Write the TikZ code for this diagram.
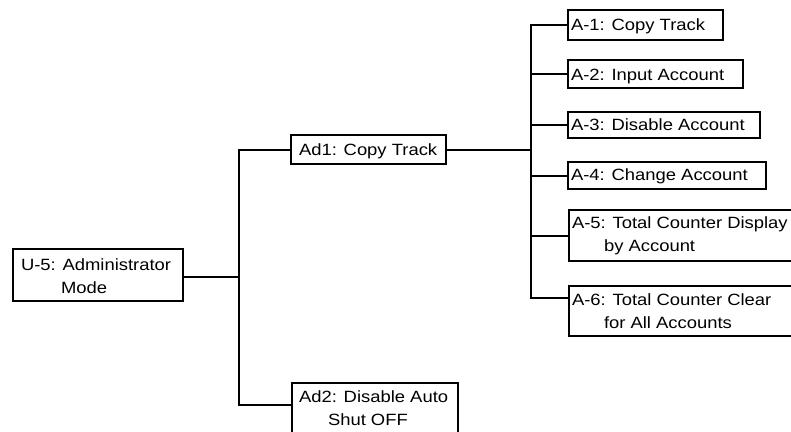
\documentclass[tikz,border=0pt]{standalone}
\usepackage{fontspec}
\setmainfont{Liberation Sans}[FakeStretch=1.13]
\usetikzlibrary{calc}
\begin{document}
\begin{tikzpicture}[x=1pt,y=-1pt,line width=2pt,
  box/.style={draw,line width=2pt,anchor=north west,inner sep=0pt},
  txt/.style={inner sep=0pt,font=\fontsize{16.3}{23.5}\selectfont,align=left},
  conn/.style={line width=2pt}]
\useasboundingbox (0,0) rectangle (791,431);
\clip (0,0) rectangle (791,431);
% boxes
\node[box,minimum width=170pt,minimum height=52pt] (u5) at (12,248) {};
\node[box,minimum width=155pt,minimum height=29pt] (ad1) at (290,134) {};
\node[box,minimum width=166pt,minimum height=60pt] (ad2) at (291,382) {};
\node[box,minimum width=155pt,minimum height=30pt] (a1) at (567,9) {};
\node[box,minimum width=175pt,minimum height=28pt] (a2) at (567,59) {};
\node[box,minimum width=192pt,minimum height=26pt] (a3) at (567,111) {};
\node[box,minimum width=198pt,minimum height=27pt] (a4) at (567,161) {};
\node[box,minimum width=240pt,minimum height=51pt] (a5) at (568,209) {};
\node[box,minimum width=240pt,minimum height=50pt] (a6) at (568,285) {};
% texts
\node[txt,anchor=north west] (u5t) at (20,257.2) {U-5: Administrator\\\hspace*{40pt}Mode};
\node[txt,anchor=base west] (ad1t) at (298,155) {Ad1: Copy Track};
\node[txt,anchor=north west] (ad2t) at (298,389.2) {Ad2: Disable Auto\\\hspace*{29pt}Shut OFF};
\node[txt,anchor=base west] (a1t) at (570,30) {A-1: Copy Track};
\node[txt,anchor=base west] (a2t) at (570,80) {A-2: Input Account};
\node[txt,anchor=base west] (a3t) at (570,130) {A-3: Disable Account};
\node[txt,anchor=base west] (a4t) at (570,180) {A-4: Change Account};
\node[txt,anchor=north west] (a5t) at (571,215.2) {A-5: Total Counter Display\\\hspace*{32pt}by Account};
\node[txt,anchor=north west] (a6t) at (571,292.2) {A-6: Total Counter Clear\\\hspace*{32pt}for All Accounts};
% junction coordinates
\coordinate (j0) at (239,277);
\coordinate (v2) at (531,0);
\coordinate (u5c) at ($(u5.north east)+(0,29)$);
\coordinate (ad2c) at ($(ad2.north west)+(0,23)$);
\coordinate (a6c) at ($(a6.north west)+(0,13)$);
% connectors
\draw[conn] (u5c) -- (j0);
\draw[conn] (ad1.west) -- (ad1.west -| j0) -- (ad2c -| j0) -- (ad2c);
\draw[conn] (ad1.east) -- (ad1.east -| v2);
\draw[conn] (a1.west) -- (a1.west -| v2) -- (a6c -| v2) -- (a6c);
\draw[conn] (a2.west) -- (a2.west -| v2);
\draw[conn] (a3.west) -- (a3.west -| v2);
\draw[conn] (a4.west) -- (a4.west -| v2);
\draw[conn] (a5.west) -- (a5.west -| v2);
\end{tikzpicture}
\end{document}
